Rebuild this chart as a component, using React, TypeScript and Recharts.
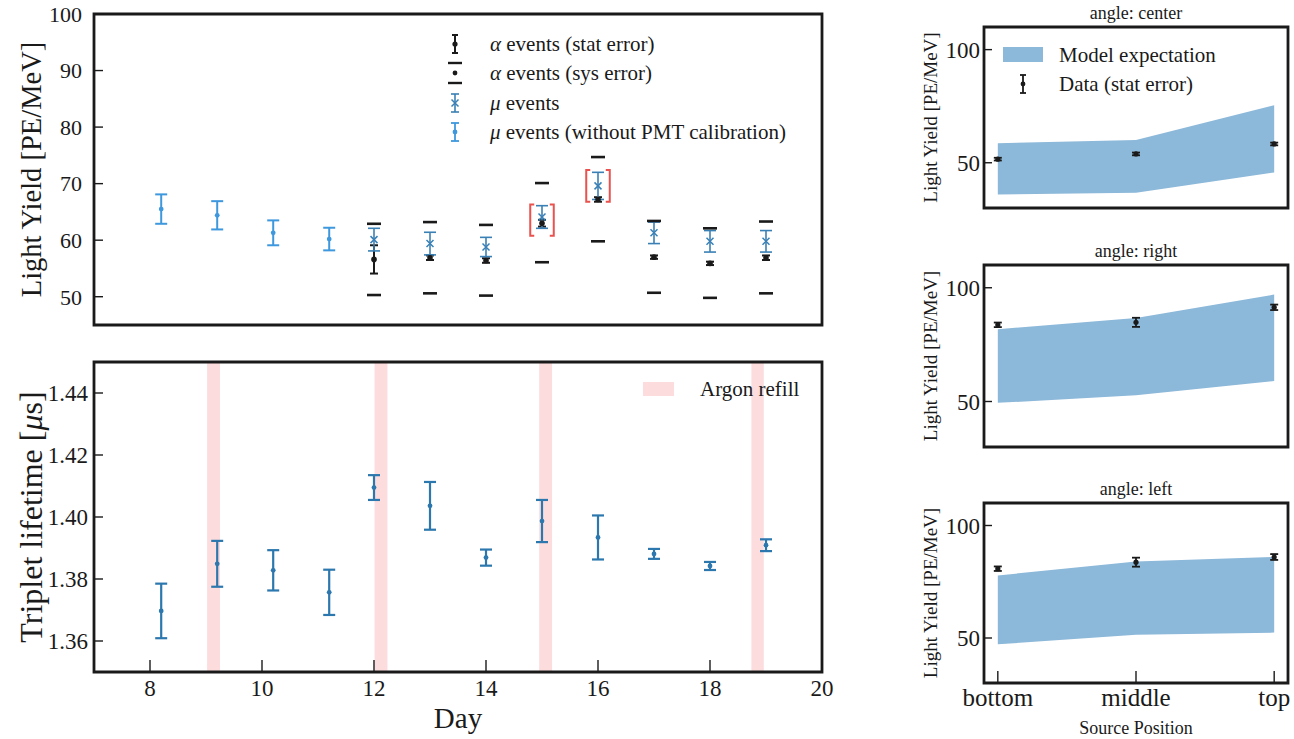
import React from "react";
import { ComposedChart, Scatter, ErrorBar, XAxis, YAxis, ReferenceArea, Area, Legend } from "recharts";

const FONT = '"Liberation Serif", "DejaVu Serif", serif';
const INK = "#1a1a1a";
const MU_BLUE = "#3a80b5";
const NOCAL_BLUE = "#3e98de";
const TAU_BLUE = "#2c78ae";
const REFILL_PINK = "#fcdcdd";
const MODEL_FILL = "#8cb8d9";
const FLAG_RED = "#e9524e";

// light yield vs day (top left)
const noCalDays = [8.2, 9.2, 10.2, 11.2];
const noCalLY = [65.5, 64.4, 61.3, 60.2];
const noCalErr = [2.6, 2.5, 2.2, 2.0];

const eventDays = [12, 13, 14, 15, 16, 17, 18, 19];
const muLY = [60.1, 59.4, 58.8, 64.1, 69.6, 61.3, 59.8, 59.8];
const muErr = [2.0, 2.0, 1.7, 2.0, 2.4, 1.9, 1.9, 1.9];
const alphaLY = [56.6, 56.9, 56.4, 63.0, 67.2, 57.0, 55.9, 56.9];
const alphaStatErr = [2.5, 0.4, 0.4, 0.6, 0.4, 0.3, 0.3, 0.4];
const alphaSysHigh = [62.9, 63.2, 62.7, 70.1, 74.7, 63.4, 62.1, 63.3];
const alphaSysLow = [50.3, 50.6, 50.2, 56.1, 59.8, 50.7, 49.8, 50.6];

const flaggedDays = [15, 16];
const flaggedLow = [60.8, 66.8];
const flaggedHigh = [66.3, 72.4];

// triplet lifetime vs day (bottom left)
const tauDays = [8.2, 9.2, 10.2, 11.2, 12, 13, 14, 15, 16, 17, 18, 19];
const tauValues = [1.3697, 1.3849, 1.3828, 1.3757, 1.4095, 1.4036, 1.3869, 1.3987, 1.3934, 1.3881, 1.3842, 1.3909];
const tauErr = [0.0088, 0.0074, 0.0065, 0.0073, 0.004, 0.0077, 0.0026, 0.0068, 0.0071, 0.0016, 0.0013, 0.0019];
const refillStart = [9.02, 12.01, 14.95, 18.74];
const refillEnd = [9.25, 12.24, 15.18, 18.96];

const dayTicks = [8, 10, 12, 14, 16, 18, 20];
const lyTicks = [50, 60, 70, 80, 90, 100];
const tauTicks = [1.36, 1.38, 1.4, 1.42, 1.44];

// light yield vs source position (right column)
const positions = ["bottom", "middle", "top"];
const positionIndex = [0, 1, 2];
const sourceTicks = [50, 100];

const centerModelLow = [36.0, 36.7, 45.7];
const centerModelHigh = [58.6, 60.1, 75.4];
const centerData = [51.6, 53.9, 58.3];
const centerErr = [0.6, 0.6, 0.6];

const rightModelLow = [49.4, 52.7, 59.0];
const rightModelHigh = [81.8, 86.7, 97.0];
const rightData = [83.7, 84.8, 91.4];
const rightErr = [1.0, 2.0, 1.2];

const leftModelLow = [47.2, 51.5, 52.4];
const leftModelHigh = [77.8, 84.0, 86.0];
const leftData = [80.8, 83.7, 86.0];
const leftErr = [1.0, 2.0, 1.3];

const points = (xs: number[], ys: number[], errs?: number[]) =>
  xs.map((x, i) => ({ x, y: ys[i], err: errs ? errs[i] : 0 }));

// marker shapes
const dot = (color: string, r: number) => (p: any) =>
  p.cx == null ? <g /> : <circle cx={p.cx} cy={p.cy} r={r} fill={color} />;

const cross = (color: string) => (p: any) =>
  p.cx == null ? (
    <g />
  ) : (
    <path
      d={`M${p.cx - 3.5},${p.cy - 3.5}L${p.cx + 3.5},${p.cy + 3.5}M${p.cx - 3.5},${p.cy + 3.5}L${p.cx + 3.5},${p.cy - 3.5}`}
      stroke={color}
      strokeWidth={1.5}
    />
  );

const dash = (p: any) =>
  p.cx == null ? <g /> : <line x1={p.cx - 7} x2={p.cx + 7} y1={p.cy} y2={p.cy} stroke={INK} strokeWidth={2.6} />;

const Bracket = (p: any) => {
  const { x, y, width, height } = p;
  if (x == null) return <g />;
  const c = 4;
  return (
    <path
      d={`M${x + c},${y}H${x}V${y + height}H${x + c}M${x + width - c},${y}H${x + width}V${y + height}H${x + width - c}`}
      stroke={FLAG_RED}
      strokeWidth={2}
      fill="none"
    />
  );
};

const rotatedLabel = (content: React.ReactNode, x: number, size: number) => (props: any) => {
  const vb = props.viewBox || {};
  const cy = (vb.y ?? 0) + (vb.height ?? 0) / 2;
  return (
    <text
      x={x}
      y={cy}
      transform={`rotate(-90 ${x} ${cy})`}
      textAnchor="middle"
      dominantBaseline="central"
      fontFamily={FONT}
      fontSize={size}
      fill={INK}
    >
      {content}
    </text>
  );
};

const titleLabel = (title: string) => (props: any) => {
  const vb = props.viewBox || {};
  return (
    <text x={(vb.x ?? 0) + (vb.width ?? 0) / 2} y={(vb.y ?? 0) - 8} textAnchor="middle" fontFamily={FONT} fontSize={18} fill={INK}>
      {title}
    </text>
  );
};

const tickFont = (size: number) => ({ fontSize: size, fontFamily: FONT, fill: INK });
const tickLine = { stroke: INK, strokeWidth: 1.4 };

function LightYieldLegend() {
  const gx = 455;
  const tx = 490;
  const rows = [44, 73, 103, 132];
  const txt = (y: number, sym: string, rest: string) => (
    <text x={tx} y={y} dominantBaseline="central" fontFamily={FONT} fontSize={21} fill={INK}>
      <tspan fontStyle="italic">{sym}</tspan>
      {rest}
    </text>
  );
  return (
    <svg width={840} height={150} style={{ display: "block" }}>
      <g stroke={INK} strokeWidth={2}>
        <line x1={gx} x2={gx} y1={rows[0] - 9} y2={rows[0] + 9} />
        <line x1={gx - 3} x2={gx + 3} y1={rows[0] - 9} y2={rows[0] - 9} />
        <line x1={gx - 3} x2={gx + 3} y1={rows[0] + 9} y2={rows[0] + 9} />
      </g>
      <circle cx={gx} cy={rows[0]} r={2.6} fill={INK} />
      <line x1={gx - 7} x2={gx + 7} y1={rows[1] - 10} y2={rows[1] - 10} stroke={INK} strokeWidth={2.4} />
      <line x1={gx - 7} x2={gx + 7} y1={rows[1] + 10} y2={rows[1] + 10} stroke={INK} strokeWidth={2.4} />
      <circle cx={gx} cy={rows[1]} r={2.4} fill={INK} />
      <g stroke={MU_BLUE} strokeWidth={1.6}>
        <line x1={gx} x2={gx} y1={rows[2] - 9} y2={rows[2] + 9} />
        <line x1={gx - 4} x2={gx + 4} y1={rows[2] - 9} y2={rows[2] - 9} />
        <line x1={gx - 4} x2={gx + 4} y1={rows[2] + 9} y2={rows[2] + 9} />
      </g>
      {cross(MU_BLUE)({ cx: gx, cy: rows[2] })}
      <g stroke={NOCAL_BLUE} strokeWidth={1.8}>
        <line x1={gx} x2={gx} y1={rows[3] - 9} y2={rows[3] + 9} />
        <line x1={gx - 4} x2={gx + 4} y1={rows[3] - 9} y2={rows[3] - 9} />
        <line x1={gx - 4} x2={gx + 4} y1={rows[3] + 9} y2={rows[3] + 9} />
      </g>
      <circle cx={gx} cy={rows[3]} r={2.4} fill={NOCAL_BLUE} />
      {txt(rows[0], "α", " events (stat error)")}
      {txt(rows[1], "α", " events (sys error)")}
      {txt(rows[2], "μ", " events")}
      {txt(rows[3], "μ", " events (without PMT calibration)")}
    </svg>
  );
}

function LightYieldChart() {
  return (
    <ComposedChart width={840} height={340} margin={{ top: 14, right: 18, bottom: 0, left: 10 }}>
      <XAxis
        xAxisId="d"
        type="number"
        dataKey="x"
        domain={[7, 20]}
        ticks={dayTicks}
        interval={0}
        allowDataOverflow
        height={15}
        axisLine={false}
        tick={false}
        tickSize={-12}
        tickLine={tickLine}
        stroke={INK}
      />
      <YAxis
        yAxisId="ly"
        type="number"
        domain={[45, 100]}
        ticks={lyTicks}
        interval={0}
        allowDataOverflow
        width={84}
        axisLine={false}
        tickSize={-9}
        tickMargin={21}
        tickLine={tickLine}
        tick={tickFont(22)}
        stroke={INK}
        label={rotatedLabel("Light Yield [PE/MeV]", 31, 28.5)}
      />
      <Scatter xAxisId="d" yAxisId="ly" data={points(eventDays, alphaSysHigh)} dataKey="y" shape={dash} isAnimationActive={false} />
      <Scatter xAxisId="d" yAxisId="ly" data={points(eventDays, alphaSysLow)} dataKey="y" shape={dash} isAnimationActive={false} />
      <Scatter xAxisId="d" yAxisId="ly" data={points(eventDays, alphaLY, alphaStatErr)} dataKey="y" shape={dot(INK, 2.8)} isAnimationActive={false}>
        <ErrorBar dataKey="err" direction="y" width={4} stroke={INK} strokeWidth={2} />
      </Scatter>
      <Scatter xAxisId="d" yAxisId="ly" data={points(eventDays, muLY, muErr)} dataKey="y" shape={cross(MU_BLUE)} isAnimationActive={false}>
        <ErrorBar dataKey="err" direction="y" width={6} stroke={MU_BLUE} strokeWidth={1.6} />
      </Scatter>
      <Scatter xAxisId="d" yAxisId="ly" data={points(noCalDays, noCalLY, noCalErr)} dataKey="y" shape={dot(NOCAL_BLUE, 2.4)} isAnimationActive={false}>
        <ErrorBar dataKey="err" direction="y" width={6} stroke={NOCAL_BLUE} strokeWidth={2} />
      </Scatter>
      {flaggedDays.map((d, i) => (
        <ReferenceArea
          key={d}
          xAxisId="d"
          yAxisId="ly"
          x1={d - 0.21}
          x2={d + 0.21}
          y1={flaggedLow[i]}
          y2={flaggedHigh[i]}
          shape={Bracket}
        />
      ))}
      <ReferenceArea xAxisId="d" yAxisId="ly" x1={7} x2={20} y1={45} y2={100} fill="none" stroke={INK} strokeWidth={2.8} />
      <Legend
        layout="vertical"
        align="center"
        verticalAlign="middle"
        wrapperStyle={{ left: 0, top: 0, width: 840, height: 150, pointerEvents: "none" }}
        content={() => <LightYieldLegend />}
      />
    </ComposedChart>
  );
}

function LifetimeChart() {
  return (
    <ComposedChart width={840} height={399} margin={{ top: 22, right: 18, bottom: 0, left: 10 }}>
      <XAxis
        xAxisId="d"
        type="number"
        dataKey="x"
        domain={[7, 20]}
        ticks={dayTicks}
        interval={0}
        allowDataOverflow
        height={67}
        axisLine={false}
        tickSize={-12}
        tickMargin={20}
        tickLine={tickLine}
        tick={tickFont(23)}
        stroke={INK}
        label={(props: any) => {
          const vb = props.viewBox || {};
          return (
            <text x={(vb.x ?? 0) + (vb.width ?? 0) / 2} y={(vb.y ?? 0) + 56} textAnchor="middle" fontFamily={FONT} fontSize={29} fill={INK}>
              Day
            </text>
          );
        }}
      />
      <YAxis
        yAxisId="t"
        type="number"
        domain={[1.35, 1.45]}
        ticks={tauTicks}
        interval={0}
        allowDataOverflow
        width={84}
        axisLine={false}
        tickSize={-9}
        tickMargin={15}
        tickLine={tickLine}
        tick={tickFont(23)}
        tickFormatter={(v: number) => v.toFixed(2)}
        stroke={INK}
        label={rotatedLabel(
          <>
            Triplet lifetime [<tspan fontStyle="italic">μ</tspan>s]
          </>,
          31,
          32
        )}
      />
      {refillStart.map((s, i) => (
        <ReferenceArea key={s} xAxisId="d" yAxisId="t" x1={s} x2={refillEnd[i]} y1={1.35} y2={1.45} fill={REFILL_PINK} fillOpacity={1} stroke="none" />
      ))}
      <Scatter xAxisId="d" yAxisId="t" data={points(tauDays, tauValues, tauErr)} dataKey="y" shape={dot(TAU_BLUE, 2.4)} isAnimationActive={false}>
        <ErrorBar dataKey="err" direction="y" width={6} stroke={TAU_BLUE} strokeWidth={2.2} />
      </Scatter>
      <ReferenceArea xAxisId="d" yAxisId="t" x1={7} x2={20} y1={1.35} y2={1.45} fill="none" stroke={INK} strokeWidth={2.8} />
      <Legend
        layout="vertical"
        align="center"
        verticalAlign="middle"
        wrapperStyle={{ left: 0, top: 0, width: 840, height: 70, pointerEvents: "none" }}
        content={() => (
          <svg width={840} height={70} style={{ display: "block" }}>
            <rect x={643} y={42} width={31} height={14} fill={REFILL_PINK} />
            <text x={700} y={49} dominantBaseline="central" fontFamily={FONT} fontSize={21} fill={INK}>
              Argon refill
            </text>
          </svg>
        )}
      />
    </ComposedChart>
  );
}

function ModelLegend() {
  return (
    <svg width={414} height={100} style={{ display: "block" }}>
      <rect x={123} y={47} width={40} height={15} fill={MODEL_FILL} />
      <g stroke={INK} strokeWidth={1.8}>
        <line x1={143} x2={143} y1={75} y2={93} />
        <line x1={140} x2={146} y1={75} y2={75} />
        <line x1={140} x2={146} y1={93} y2={93} />
      </g>
      <circle cx={143} cy={84} r={2.4} fill={INK} />
      <text x={179} y={55} dominantBaseline="central" fontFamily={FONT} fontSize={21} fill={INK}>
        Model expectation
      </text>
      <text x={179} y={84} dominantBaseline="central" fontFamily={FONT} fontSize={21} fill={INK}>
        Data (stat error)
      </text>
    </svg>
  );
}

function SourcePanel(props: {
  title: string;
  low: number[];
  high: number[];
  data: number[];
  err: number[];
  height: number;
  marginTop: number;
  axisHeight: number;
  showLabels?: boolean;
  showLegend?: boolean;
}) {
  const { title, low, high, data, err, height, marginTop, axisHeight, showLabels, showLegend } = props;
  const band = positionIndex.map((x, i) => ({ x, band: [low[i], high[i]] }));
  return (
    <ComposedChart width={414} height={height} data={band} margin={{ top: marginTop, right: 6, bottom: 0, left: 10 }}>
      <XAxis
        type="number"
        dataKey="x"
        domain={[-0.1, 2.1]}
        ticks={positionIndex}
        interval={0}
        allowDataOverflow
        height={axisHeight}
        axisLine={false}
        tickSize={-12}
        tickMargin={17}
        tickLine={tickLine}
        tick={showLabels ? tickFont(25) : false}
        tickFormatter={(v: number) => positions[v] ?? ""}
        stroke={INK}
        label={
          showLabels
            ? (lp: any) => {
                const vb = lp.viewBox || {};
                return (
                  <text x={(vb.x ?? 0) + (vb.width ?? 0) / 2} y={(vb.y ?? 0) + 51} textAnchor="middle" fontFamily={FONT} fontSize={18} fill={INK}>
                    Source Position
                  </text>
                );
              }
            : undefined
        }
      />
      <YAxis
        type="number"
        domain={[30, 110]}
        ticks={sourceTicks}
        interval={0}
        allowDataOverflow
        width={94}
        axisLine={false}
        tickSize={-8}
        tickMargin={12}
        tickLine={tickLine}
        tick={tickFont(23)}
        stroke={INK}
        label={rotatedLabel("Light Yield [PE/MeV]", 50, 19)}
      />
      <Area dataKey="band" type="linear" fill={MODEL_FILL} fillOpacity={1} stroke="none" isAnimationActive={false} />
      <Scatter data={points(positionIndex, data, err)} dataKey="y" shape={dot(INK, 2.6)} isAnimationActive={false}>
        <ErrorBar dataKey="err" direction="y" width={4} stroke={INK} strokeWidth={1.8} />
      </Scatter>
      <ReferenceArea
        x1={-0.1}
        x2={2.1}
        y1={30}
        y2={110}
        fill="none"
        stroke={INK}
        strokeWidth={2.8}
        label={titleLabel(title)}
      />
      {showLegend ? (
        <Legend
          layout="vertical"
          align="center"
          verticalAlign="middle"
          wrapperStyle={{ left: 0, top: 0, width: 414, height: 100, pointerEvents: "none" }}
          content={() => <ModelLegend />}
        />
      ) : null}
    </ComposedChart>
  );
}

export default function App() {
  return (
    <div style={{ position: "absolute", left: 0, top: 0, width: 1294, height: 739, background: "#fff", fontFamily: FONT }}>
      <div style={{ position: "absolute", left: 0, top: 0 }}>
        <LightYieldChart />
      </div>
      <div style={{ position: "absolute", left: 0, top: 340 }}>
        <LifetimeChart />
      </div>
      <div style={{ position: "absolute", left: 880, top: 0 }}>
        <SourcePanel
          title="angle: center"
          low={centerModelLow}
          high={centerModelHigh}
          data={centerData}
          err={centerErr}
          height={220}
          marginTop={27}
          axisHeight={12}
          showLegend
        />
      </div>
      <div style={{ position: "absolute", left: 880, top: 230 }}>
        <SourcePanel
          title="angle: right"
          low={rightModelLow}
          high={rightModelHigh}
          data={rightData}
          err={rightErr}
          height={229}
          marginTop={35}
          axisHeight={12}
        />
      </div>
      <div style={{ position: "absolute", left: 880, top: 470 }}>
        <SourcePanel
          title="angle: left"
          low={leftModelLow}
          high={leftModelHigh}
          data={leftData}
          err={leftErr}
          height={269}
          marginTop={33}
          axisHeight={56}
          showLabels
        />
      </div>
    </div>
  );
}
